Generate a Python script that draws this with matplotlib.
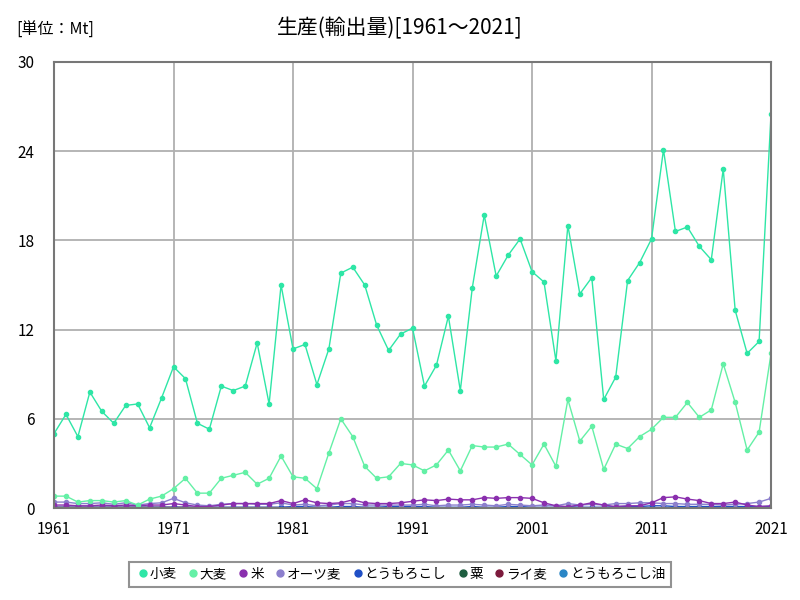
import matplotlib.pyplot as plt
import numpy as np

plt.rcParams['font.family'] = ['Noto Sans CJK JP', 'DejaVu Sans']

years = np.arange(1961, 2022)

# 単位: Mt
wheat = [5.0, 6.3, 4.8, 7.8, 6.5, 5.7, 6.9, 7.0, 5.4, 7.4,
         9.5, 8.7, 5.7, 5.3, 8.2, 7.9, 8.2, 11.1, 7.0, 15.0,
         10.7, 11.0, 8.3, 10.7, 15.8, 16.2, 15.0, 12.3, 10.6, 11.7,
         12.1, 8.2, 9.6, 12.9, 7.9, 14.8, 19.7, 15.6, 17.0, 18.1,
         15.9, 15.2, 9.9, 19.0, 14.4, 15.5, 7.3, 8.8, 15.3, 16.5,
         18.1, 24.1, 18.6, 18.9, 17.6, 16.7, 22.8, 13.3, 10.4, 11.2,
         26.5]
barley = [0.8, 0.8, 0.4, 0.5, 0.5, 0.4, 0.5, 0.2, 0.6, 0.8,
          1.3, 2.0, 1.0, 1.0, 2.0, 2.2, 2.4, 1.6, 2.0, 3.5,
          2.1, 2.0, 1.3, 3.7, 6.0, 4.8, 2.8, 2.0, 2.1, 3.0,
          2.9, 2.5, 2.9, 3.9, 2.5, 4.2, 4.1, 4.1, 4.3, 3.6,
          2.9, 4.3, 2.8, 7.3, 4.5, 5.5, 2.6, 4.3, 4.0, 4.8,
          5.3, 6.1, 6.1, 7.1, 6.1, 6.6, 9.7, 7.1, 3.9, 5.1,
          10.4]
rice = [0.2, 0.2, 0.15, 0.15, 0.2, 0.15, 0.2, 0.15, 0.2, 0.2,
        0.3, 0.2, 0.1, 0.1, 0.2, 0.3, 0.3, 0.3, 0.3, 0.5,
        0.3, 0.55, 0.35, 0.3, 0.35, 0.55, 0.35, 0.3, 0.3, 0.35,
        0.45, 0.55, 0.5, 0.6, 0.55, 0.55, 0.7, 0.65, 0.7, 0.7,
        0.65, 0.35, 0.15, 0.1, 0.2, 0.35, 0.2, 0.1, 0.15, 0.15,
        0.35, 0.7, 0.75, 0.6, 0.5, 0.3, 0.3, 0.4, 0.2, 0.1,
        0.15]
oats = [0.4, 0.4, 0.3, 0.3, 0.35, 0.25, 0.35, 0.2, 0.3, 0.35,
        0.65, 0.35, 0.2, 0.15, 0.25, 0.3, 0.3, 0.25, 0.25, 0.35,
        0.2, 0.25, 0.15, 0.2, 0.3, 0.3, 0.2, 0.2, 0.2, 0.2,
        0.2, 0.25, 0.15, 0.2, 0.2, 0.25, 0.2, 0.15, 0.25, 0.2,
        0.15, 0.2, 0.15, 0.3, 0.2, 0.25, 0.2, 0.3, 0.3, 0.35,
        0.35, 0.3, 0.3, 0.25, 0.25, 0.25, 0.2, 0.25, 0.3, 0.4,
        0.65]
corn = [0.05, 0.05, 0.05, 0.05, 0.05, 0.05, 0.05, 0.05, 0.05, 0.05,
        0.05, 0.05, 0.05, 0.05, 0.05, 0.05, 0.05, 0.05, 0.05, 0.05,
        0.1, 0.1, 0.05, 0.05, 0.1, 0.1, 0.05, 0.05, 0.1, 0.1,
        0.1, 0.1, 0.05, 0.05, 0.05, 0.1, 0.05, 0.05, 0.1, 0.1,
        0.05, 0.05, 0.05, 0.1, 0.05, 0.05, 0.05, 0.1, 0.1, 0.1,
        0.15, 0.15, 0.1, 0.1, 0.1, 0.1, 0.1, 0.1, 0.1, 0.1,
        0.1]
millet = [0.02] * 61
rye = [0.05, 0.05, 0.05, 0.05, 0.05, 0.05, 0.05, 0.05, 0.05, 0.05,
       0.05, 0.05, 0.03, 0.03, 0.03, 0.03, 0.03, 0.03, 0.03, 0.03,
       0.03, 0.03, 0.02, 0.02, 0.02, 0.02, 0.02, 0.02, 0.02, 0.02,
       0.02, 0.02, 0.02, 0.02, 0.02, 0.02, 0.02, 0.02, 0.02, 0.02,
       0.02, 0.02, 0.02, 0.02, 0.02, 0.02, 0.02, 0.02, 0.02, 0.02,
       0.02, 0.02, 0.02, 0.02, 0.02, 0.02, 0.02, 0.02, 0.02, 0.02,
       0.02]
corn_oil = [0.0] * 40 + [0.01] * 21

names = ['小麦', '大麦', '米', 'オーツ麦', 'とうもろこし', '粟', 'ライ麦', 'とうもろこし油']
series = [wheat, barley, rice, oats, corn, millet, rye, corn_oil]
colors = ['#2ee6a6', '#64f0a6', '#8a2fae', '#8c7fcd', '#1f4fc6', '#1e5e40', '#7c1a3c', '#2a86c6']

fig = plt.figure(figsize=(8, 6), dpi=100)
ax = fig.add_axes([0.0675, 0.1533, 0.8963, 0.7434])

for name, vals, c in reversed(list(zip(names, series, colors))):
    ax.plot(years, vals, '-o', color=c, lw=1, ms=3, label=name)

ax.set_xlim(1961, 2021)
ax.set_ylim(0, 30)
ax.set_xticks(np.arange(1961, 2022, 10))
ax.set_yticks(np.arange(0, 31, 6))
ax.grid(True, color='#b0b0b0', lw=1.3)
ax.set_axisbelow(True)
ax.tick_params(axis='y', length=0, labelsize=11, pad=14)
ax.tick_params(axis='x', length=0, labelsize=11, pad=9)
for s in ax.spines.values():
    s.set_color('#777777')
    s.set_linewidth(1.5)

fig.text(0.5, 0.953, '生産(輸出量)[1961～2021]', ha='center', va='center', fontsize=15)
fig.text(0.02, 0.95, '[単位：Mt]', ha='left', va='center', fontsize=11.5)

handles = [plt.Line2D([], [], ls='', marker='o', ms=5, color=c) for c in colors]
leg = fig.legend(handles, names, loc='center', bbox_to_anchor=(0.5, 0.043), ncol=8,
                 fontsize=9.8, handletextpad=-0.1, columnspacing=0.6, handlelength=1.2,
                 fancybox=False, edgecolor='#777777', borderpad=0.4)
leg.get_frame().set_linewidth(1.5)

fig.savefig('out.png', dpi=100)
